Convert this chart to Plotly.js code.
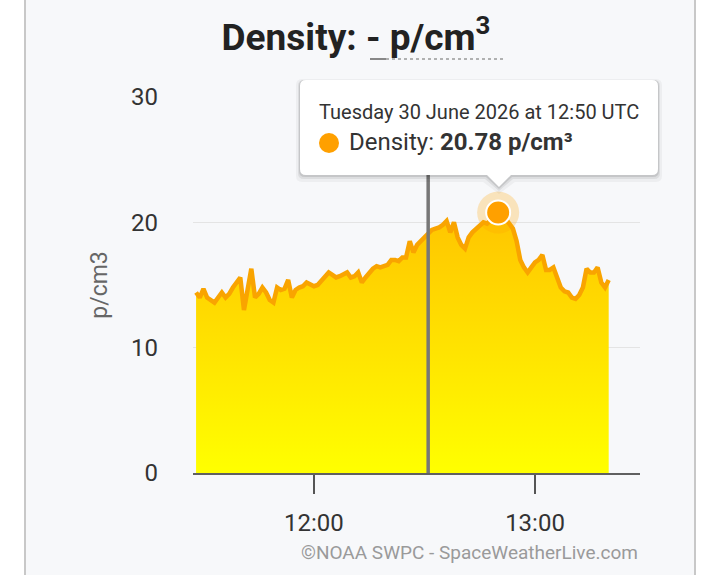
<!DOCTYPE html>
<html><head><meta charset="utf-8">
<script src="https://cdn.plot.ly/plotly-3.0.1.min.js"></script>
<style>html,body{margin:0;padding:0;background:#fff;}#chart{width:720px;height:575px;}</style>
</head><body><div id="chart"></div>
<script>
// ---- data ----
const dateStr = '2026-06-30';
const minutes = [
 '11:28','11:29','11:30','11:31','11:32','11:33','11:34','11:35','11:36','11:37',
 '11:38','11:39','11:40','11:41','11:42','11:43','11:44','11:45','11:46','11:47',
 '11:48','11:49','11:50','11:51','11:52','11:53','11:54','11:55','11:56','11:57',
 '11:58','11:59',
 '12:00','12:01','12:02','12:03','12:04','12:05','12:06','12:07','12:08','12:09',
 '12:10','12:11','12:12','12:13','12:14','12:15','12:16','12:17','12:18','12:19',
 '12:20','12:21','12:22','12:23','12:24','12:25','12:26','12:27','12:28','12:29',
 '12:30','12:31','12:32','12:33','12:34','12:35','12:36','12:37','12:38','12:39',
 '12:40','12:41','12:42','12:43','12:44','12:45','12:46','12:47','12:48','12:49',
 '12:50','12:51','12:52','12:53','12:54','12:55','12:56','12:57','12:58','12:59',
 '13:00','13:01','13:02','13:03','13:04','13:05','13:06','13:07','13:08','13:09',
 '13:10','13:11','13:12','13:13','13:14','13:15','13:16','13:17','13:18','13:19',
 '13:20'
];
const density = [
 14.4,14.0,14.7,14.0,13.8,13.6,14.0,14.4,14.0,14.3,
 14.8,15.2,15.6,13.0,14.8,16.3,14.0,14.3,14.8,14.4,
 13.8,13.6,14.8,14.6,14.7,15.4,14.0,14.6,14.8,14.9,
 15.2,15.0,
 14.9,15.0,15.3,15.6,16.0,15.8,15.6,15.7,15.9,16.0,
 15.6,15.7,16.0,15.2,15.6,16.0,16.3,16.5,16.4,16.5,
 16.6,17.0,17.0,16.9,17.2,17.2,18.5,17.6,18.2,18.5,
 18.8,19.1,19.4,19.5,19.6,19.8,20.1,19.2,20.0,18.8,
 18.2,17.9,18.8,19.2,19.5,19.7,20.0,19.9,20.2,20.5,
 20.78,20.5,20.3,19.9,19.5,18.5,17.0,16.4,16.0,16.4,
 16.8,17.0,17.4,16.2,16.2,16.4,15.6,14.8,14.5,14.4,
 14.0,13.9,14.2,14.8,16.3,16.0,16.0,16.4,15.2,14.8,
 15.4
];
const yTickVals = [0, 10, 20, 30];
const xTickLabels = ['12:00', '13:00'];
const hoverMinute = '12:50';
const markerLineMinute = '12:31';
const axisStart = '11:27:10';
const axisEnd = '13:28:30';

// ---- build ----
const times = minutes.map(m => dateStr + ' ' + m);
const hi = minutes.indexOf(hoverMinute);
const hoverVal = density[hi];

// pixel -> paper helpers (plot area 193..640 x 97..473)
const L = 193, R = 640, T = 97, B = 473;
const px = x => (x - L) / (R - L);
const py = y => (B - y) / (B - T);

function tipPath(d, oy) {
  const x0 = 300 - d, x1 = 658 + d, y0 = 80 - d + oy, y1 = 175 + d + oy, r = 6;
  const cx = 499, tipY = 187 + d + oy, hw = 12 + d;
  const P = (x, y) => px(x).toFixed(5) + ',' + py(y).toFixed(5);
  return 'M' + P(x0 + r, y0) + ' L' + P(x1 - r, y0) + ' Q' + P(x1, y0) + ' ' + P(x1, y0 + r) +
    ' L' + P(x1, y1 - r) + ' Q' + P(x1, y1) + ' ' + P(x1 - r, y1) +
    ' L' + P(cx + hw, y1) + ' L' + P(cx, tipY) + ' L' + P(cx - hw, y1) +
    ' L' + P(x0 + r, y1) + ' Q' + P(x0, y1) + ' ' + P(x0, y1 - r) +
    ' L' + P(x0, y0 + r) + ' Q' + P(x0, y0) + ' ' + P(x0 + r, y0) + ' Z';
}

const font = 'Roboto, "Noto Sans", sans-serif';

const traces = [
  {
    x: times, y: density, type: 'scatter', mode: 'lines',
    line: {color: '#f9a400', width: 4.5},
    fill: 'tozeroy',
    fillgradient: {type: 'vertical', colorscale: [[0, '#ffff00'], [1, '#ffc400']], start: 0, stop: 21},
    hoverinfo: 'skip'
  },
  {
    x: [times[hi]], y: [hoverVal], type: 'scatter', mode: 'markers',
    marker: {size: 42, color: 'rgba(255,165,0,0.25)', line: {width: 0}}, hoverinfo: 'skip'
  },
  {
    x: [times[hi]], y: [hoverVal], type: 'scatter', mode: 'markers',
    marker: {size: 24, color: '#ffa000', line: {width: 2, color: '#ffffff'}}, hoverinfo: 'skip'
  }
];

const shapes = [
  // page sides
  {type: 'rect', xref: 'paper', yref: 'paper', x0: px(0), x1: px(24), y0: py(575), y1: py(0), fillcolor: '#ffffff', line: {width: 0}, layer: 'below'},
  {type: 'rect', xref: 'paper', yref: 'paper', x0: px(696), x1: px(720), y0: py(575), y1: py(0), fillcolor: '#ffffff', line: {width: 0}, layer: 'below'},
  {type: 'line', xref: 'paper', yref: 'paper', x0: px(25), x1: px(25), y0: py(575), y1: py(0), line: {color: '#c8c8c8', width: 2}, layer: 'below'},
  {type: 'line', xref: 'paper', yref: 'paper', x0: px(695), x1: px(695), y0: py(575), y1: py(0), line: {color: '#c8c8c8', width: 2}, layer: 'below'},
  // title underline
  {type: 'line', xref: 'paper', yref: 'paper', x0: px(370), x1: px(386), y0: py(59), y1: py(59), line: {color: '#888', width: 2}},
  {type: 'line', xref: 'paper', yref: 'paper', x0: px(386), x1: px(504), y0: py(59), y1: py(59), line: {color: '#999', width: 1.5, dash: 'dot'}},
  // vertical marker line
  {type: 'line', xref: 'x', yref: 'paper', x0: dateStr + ' ' + markerLineMinute, x1: dateStr + ' ' + markerLineMinute, y0: 0, y1: 1, line: {color: '#777', width: 3.5}, layer: 'above'},
  // tooltip shadow + box
  {type: 'path', xref: 'paper', yref: 'paper', path: tipPath(4, 3), fillcolor: 'rgba(0,0,0,0.04)', line: {width: 0}, layer: 'above'},
  {type: 'path', xref: 'paper', yref: 'paper', path: tipPath(2, 2), fillcolor: 'rgba(0,0,0,0.07)', line: {width: 0}, layer: 'above'},
  {type: 'path', xref: 'paper', yref: 'paper', path: tipPath(1, 1), fillcolor: 'rgba(0,0,0,0.10)', line: {width: 0}, layer: 'above'},
  {type: 'path', xref: 'paper', yref: 'paper', path: tipPath(0, 0), fillcolor: '#ffffff', line: {width: 0}, layer: 'above'},
  // tooltip dot
  {type: 'circle', xref: 'paper', yref: 'paper', x0: px(319), x1: px(339), y0: py(153), y1: py(133), fillcolor: '#ffa000', line: {width: 0}, layer: 'above'}
];

const weekday = 'Tuesday';
const dateLabel = '30 June 2026';
const annotations = [
  {xref: 'paper', yref: 'paper', x: px(479), y: py(112), xanchor: 'center', yanchor: 'middle', showarrow: false,
   text: weekday + ' ' + dateLabel + ' at ' + hoverMinute + ' UTC', font: {family: font, size: 20, color: '#333'}},
  {xref: 'paper', yref: 'paper', x: px(347), y: py(142), xanchor: 'left', yanchor: 'middle', showarrow: false,
   text: 'Density: <b>' + hoverVal.toFixed(2) + ' p/cm³</b>', font: {family: font, size: 24, color: '#333'}},
  {xref: 'paper', yref: 'paper', x: px(640), y: py(552), xanchor: 'right', yanchor: 'middle', showarrow: false,
   text: '©NOAA SWPC - SpaceWeatherLive.com', font: {family: font, size: 19, color: '#9a9a9a'}}
];

const layout = {
  width: 720, height: 575,
  margin: {l: L, r: 720 - R, t: T, b: 575 - B, pad: 0},
  paper_bgcolor: '#f7f8fa', plot_bgcolor: 'rgba(0,0,0,0)',
  showlegend: false,
  title: {text: '<b>Density: - p/cm<sup>3</sup></b>', font: {family: font, size: 37, color: '#222'},
          x: 356 / 720, xanchor: 'center', xref: 'container', y: 1 - 37 / 575, yanchor: 'middle', yref: 'container'},
  xaxis: {
    type: 'date', range: [dateStr + ' ' + axisStart, dateStr + ' ' + axisEnd],
    tickvals: xTickLabels.map(t => dateStr + ' ' + t), ticktext: xTickLabels,
    ticks: 'outside', ticklen: 19, tickwidth: 2, tickcolor: '#555',
    showline: true, linecolor: '#606060', linewidth: 2,
    showgrid: false, zeroline: false, fixedrange: true,
    tickfont: {family: font, size: 24, color: '#333'}, ticklabelstandoff: 8
  },
  yaxis: {
    range: [0, 30], tickvals: yTickVals, ticktext: yTickVals.map(String),
    showgrid: true, gridcolor: '#e4e4e4', gridwidth: 1.5,
    zeroline: false, showline: false, ticks: '',
    tickfont: {family: font, size: 24, color: '#333'}, ticklabelstandoff: 34,
    title: {text: 'p/cm3', font: {family: font, size: 23, color: '#666'}, standoff: 16},
    fixedrange: true
  },
  shapes: shapes,
  annotations: annotations,
  hovermode: false
};

Plotly.newPlot('chart', traces, layout, {staticPlot: true, displayModeBar: false});
</script>
</body></html>
